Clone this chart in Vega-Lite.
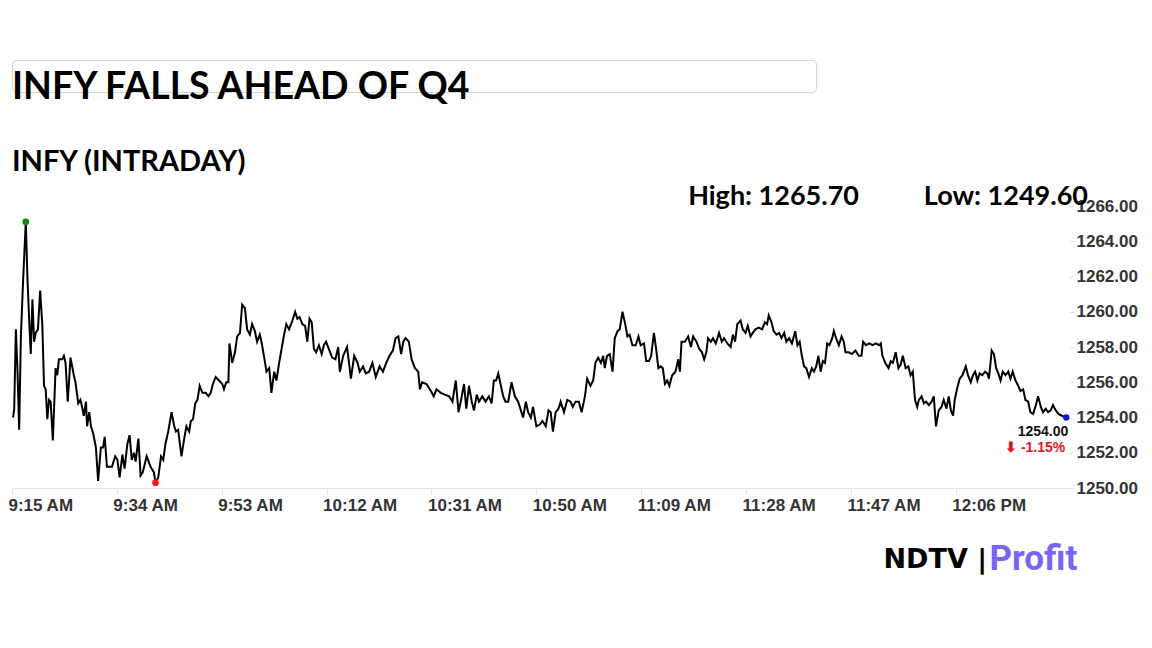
{
  "$schema": "https://vega.github.io/schema/vega-lite/v6.json",
  "padding": {"left": 8, "top": 59, "right": 0, "bottom": 20},
  "autosize": {"type": "pad"},
  "background": "#ffffff",
  "spacing": 41,
  "config": {"view": {"stroke": null}, "font": "Liberation Sans"},
  "datasets": {
    "px": [
      {"t":555.2,"p":1254.0},{"t":555.4,"p":1254.5},{"t":555.7,"p":1259.0},{"t":556.0,"p":1256.6},{"t":556.3,"p":1253.3},{"t":556.6,"p":1258.5},{"t":557.0,"p":1261.7},{"t":557.5,"p":1265.1},{"t":557.8,"p":1261.9},{"t":558.1,"p":1259.6},{"t":558.4,"p":1257.6},{"t":558.7,"p":1260.7},{"t":559.0,"p":1258.3},{"t":559.3,"p":1258.8},{"t":559.7,"p":1259.0},{"t":560.1,"p":1261.2},{"t":560.5,"p":1259.2},{"t":560.8,"p":1255.8},{"t":561.1,"p":1255.6},{"t":561.4,"p":1253.9},{"t":561.7,"p":1255.0},{"t":562.0,"p":1254.9},{"t":562.4,"p":1252.7},{"t":562.9,"p":1256.8},{"t":563.2,"p":1256.4},{"t":563.5,"p":1257.3},{"t":564.1,"p":1257.3},{"t":564.4,"p":1257.5},{"t":564.7,"p":1257.1},{"t":565.1,"p":1254.9},{"t":565.6,"p":1257.4},{"t":566.2,"p":1256.4},{"t":566.5,"p":1256.0},{"t":567.0,"p":1254.8},{"t":567.4,"p":1255.0},{"t":567.7,"p":1254.6},{"t":568.0,"p":1254.1},{"t":568.4,"p":1254.9},{"t":568.6,"p":1253.5},{"t":569.0,"p":1254.3},{"t":569.3,"p":1253.5},{"t":569.7,"p":1253.1},{"t":570.2,"p":1252.3},{"t":570.6,"p":1250.4},{"t":571.1,"p":1252.3},{"t":571.5,"p":1252.3},{"t":571.8,"p":1252.9},{"t":572.2,"p":1251.2},{"t":572.6,"p":1251.2},{"t":573.1,"p":1251.2},{"t":573.7,"p":1251.8},{"t":574.1,"p":1251.6},{"t":574.5,"p":1250.6},{"t":575.0,"p":1251.9},{"t":575.4,"p":1251.1},{"t":575.9,"p":1252.5},{"t":576.3,"p":1253.0},{"t":576.7,"p":1251.6},{"t":577.1,"p":1252.0},{"t":577.4,"p":1251.5},{"t":577.9,"p":1252.8},{"t":578.3,"p":1250.7},{"t":578.7,"p":1250.9},{"t":579.4,"p":1251.8},{"t":580.1,"p":1251.2},{"t":580.7,"p":1250.9},{"t":581.0,"p":1250.3},{"t":581.5,"p":1250.6},{"t":582.0,"p":1251.8},{"t":582.4,"p":1251.6},{"t":582.8,"p":1252.5},{"t":583.3,"p":1253.2},{"t":583.9,"p":1254.3},{"t":584.4,"p":1253.5},{"t":584.7,"p":1253.2},{"t":585.1,"p":1253.3},{"t":585.7,"p":1251.8},{"t":586.2,"p":1252.8},{"t":586.6,"p":1253.5},{"t":587.1,"p":1253.2},{"t":587.4,"p":1253.8},{"t":587.8,"p":1253.9},{"t":588.2,"p":1254.8},{"t":588.6,"p":1255.0},{"t":589.0,"p":1255.8},{"t":589.5,"p":1255.4},{"t":590.1,"p":1255.4},{"t":590.6,"p":1255.2},{"t":591.0,"p":1255.4},{"t":591.4,"p":1255.9},{"t":591.9,"p":1256.3},{"t":592.5,"p":1256.1},{"t":593.1,"p":1255.9},{"t":593.4,"p":1255.6},{"t":593.8,"p":1256.0},{"t":594.2,"p":1256.0},{"t":594.4,"p":1258.2},{"t":594.9,"p":1257.1},{"t":595.4,"p":1257.7},{"t":595.8,"p":1258.6},{"t":596.3,"p":1258.8},{"t":596.7,"p":1260.4},{"t":597.2,"p":1260.2},{"t":597.6,"p":1259.0},{"t":598.1,"p":1258.7},{"t":598.5,"p":1259.3},{"t":599.0,"p":1258.9},{"t":599.4,"p":1258.3},{"t":599.9,"p":1258.7},{"t":600.2,"p":1258.3},{"t":600.7,"p":1257.4},{"t":601.1,"p":1256.6},{"t":601.6,"p":1256.8},{"t":602.0,"p":1255.4},{"t":602.5,"p":1256.6},{"t":602.9,"p":1256.1},{"t":603.4,"p":1257.1},{"t":603.9,"p":1258.0},{"t":604.3,"p":1258.7},{"t":604.7,"p":1259.3},{"t":605.2,"p":1259.0},{"t":605.8,"p":1259.5},{"t":606.3,"p":1260.0},{"t":606.7,"p":1259.6},{"t":607.1,"p":1259.7},{"t":607.6,"p":1259.3},{"t":608.1,"p":1259.2},{"t":608.5,"p":1258.3},{"t":608.9,"p":1259.6},{"t":609.3,"p":1259.4},{"t":609.7,"p":1257.9},{"t":610.1,"p":1257.7},{"t":610.6,"p":1258.1},{"t":611.1,"p":1257.6},{"t":611.5,"p":1258.1},{"t":611.9,"p":1258.3},{"t":612.4,"p":1257.9},{"t":613.0,"p":1257.4},{"t":613.6,"p":1257.3},{"t":614.1,"p":1258.0},{"t":614.4,"p":1256.6},{"t":615.0,"p":1257.5},{"t":615.7,"p":1258.0},{"t":616.4,"p":1256.2},{"t":617.0,"p":1257.5},{"t":617.6,"p":1257.1},{"t":618.0,"p":1256.6},{"t":618.6,"p":1256.9},{"t":619.1,"p":1256.5},{"t":619.7,"p":1256.6},{"t":620.3,"p":1257.1},{"t":620.9,"p":1256.3},{"t":621.6,"p":1256.9},{"t":622.2,"p":1256.6},{"t":622.8,"p":1257.1},{"t":623.4,"p":1257.5},{"t":624.0,"p":1257.8},{"t":624.5,"p":1258.5},{"t":625.0,"p":1258.6},{"t":625.5,"p":1257.6},{"t":625.9,"p":1258.3},{"t":626.3,"p":1258.5},{"t":626.9,"p":1258.3},{"t":627.4,"p":1257.3},{"t":628.0,"p":1256.8},{"t":628.6,"p":1256.6},{"t":628.9,"p":1255.6},{"t":629.3,"p":1256.0},{"t":630.1,"p":1255.9},{"t":630.9,"p":1255.5},{"t":631.4,"p":1255.2},{"t":631.9,"p":1255.6},{"t":632.7,"p":1255.4},{"t":633.4,"p":1255.3},{"t":634.2,"p":1255.2},{"t":634.8,"p":1254.9},{"t":635.4,"p":1256.1},{"t":635.9,"p":1254.3},{"t":636.3,"p":1254.9},{"t":636.9,"p":1255.9},{"t":637.3,"p":1254.5},{"t":637.8,"p":1255.8},{"t":638.3,"p":1254.9},{"t":638.7,"p":1254.4},{"t":639.2,"p":1255.3},{"t":639.6,"p":1254.9},{"t":640.2,"p":1255.2},{"t":640.8,"p":1254.9},{"t":641.4,"p":1255.2},{"t":641.9,"p":1254.8},{"t":642.3,"p":1256.1},{"t":642.7,"p":1256.1},{"t":643.1,"p":1256.5},{"t":643.5,"p":1255.9},{"t":644.0,"p":1255.2},{"t":644.4,"p":1254.9},{"t":644.9,"p":1254.9},{"t":645.5,"p":1256.0},{"t":646.1,"p":1255.2},{"t":646.7,"p":1254.9},{"t":647.6,"p":1254.0},{"t":648.1,"p":1254.9},{"t":648.5,"p":1254.3},{"t":649.0,"p":1254.0},{"t":649.4,"p":1254.6},{"t":650.0,"p":1253.5},{"t":650.6,"p":1253.6},{"t":651.1,"p":1253.8},{"t":651.7,"p":1253.5},{"t":652.2,"p":1254.4},{"t":652.6,"p":1254.3},{"t":653.0,"p":1253.2},{"t":653.5,"p":1254.3},{"t":654.0,"p":1254.5},{"t":654.4,"p":1254.9},{"t":655.0,"p":1254.3},{"t":655.6,"p":1255.0},{"t":656.2,"p":1254.9},{"t":656.6,"p":1254.6},{"t":657.1,"p":1254.9},{"t":657.7,"p":1254.9},{"t":658.2,"p":1254.3},{"t":658.8,"p":1255.2},{"t":659.2,"p":1256.2},{"t":659.8,"p":1255.8},{"t":660.3,"p":1256.1},{"t":660.7,"p":1257.1},{"t":661.2,"p":1257.4},{"t":661.7,"p":1257.1},{"t":662.1,"p":1257.5},{"t":662.4,"p":1256.8},{"t":662.8,"p":1257.5},{"t":663.3,"p":1257.6},{"t":663.8,"p":1256.6},{"t":664.2,"p":1258.5},{"t":664.7,"p":1258.9},{"t":665.1,"p":1259.0},{"t":665.6,"p":1260.0},{"t":666.1,"p":1259.3},{"t":666.5,"p":1258.6},{"t":666.9,"p":1258.7},{"t":667.4,"p":1258.1},{"t":668.0,"p":1258.1},{"t":668.5,"p":1258.6},{"t":668.9,"p":1258.1},{"t":669.5,"p":1258.2},{"t":669.9,"p":1257.2},{"t":670.4,"p":1257.2},{"t":670.8,"p":1257.5},{"t":671.3,"p":1258.8},{"t":671.7,"p":1257.9},{"t":672.1,"p":1256.8},{"t":672.5,"p":1256.9},{"t":672.9,"p":1256.8},{"t":673.3,"p":1255.9},{"t":673.7,"p":1256.1},{"t":674.1,"p":1255.8},{"t":674.6,"p":1256.4},{"t":675.2,"p":1256.6},{"t":675.7,"p":1257.3},{"t":676.0,"p":1256.6},{"t":676.3,"p":1258.3},{"t":676.9,"p":1258.3},{"t":677.5,"p":1258.6},{"t":678.0,"p":1258.0},{"t":678.4,"p":1258.6},{"t":679.0,"p":1258.3},{"t":679.5,"p":1257.9},{"t":680.0,"p":1257.7},{"t":680.4,"p":1257.3},{"t":680.8,"p":1257.7},{"t":681.1,"p":1258.5},{"t":681.6,"p":1258.3},{"t":682.0,"p":1258.5},{"t":682.5,"p":1258.2},{"t":683.1,"p":1258.8},{"t":683.6,"p":1258.3},{"t":684.0,"p":1258.5},{"t":684.6,"p":1258.2},{"t":685.2,"p":1258.0},{"t":685.6,"p":1258.7},{"t":686.0,"p":1258.3},{"t":686.4,"p":1259.3},{"t":687.0,"p":1259.5},{"t":687.4,"p":1259.0},{"t":687.9,"p":1258.8},{"t":688.3,"p":1259.2},{"t":688.8,"p":1258.6},{"t":689.2,"p":1258.8},{"t":689.7,"p":1259.0},{"t":690.3,"p":1259.1},{"t":690.9,"p":1259.0},{"t":691.4,"p":1259.4},{"t":691.8,"p":1259.3},{"t":692.1,"p":1259.8},{"t":692.6,"p":1259.4},{"t":693.0,"p":1258.9},{"t":693.5,"p":1258.7},{"t":694.0,"p":1258.8},{"t":694.4,"p":1258.5},{"t":694.9,"p":1258.8},{"t":695.3,"p":1258.3},{"t":695.8,"p":1258.5},{"t":696.3,"p":1258.2},{"t":696.9,"p":1258.9},{"t":697.3,"p":1258.1},{"t":697.7,"p":1258.3},{"t":698.1,"p":1257.5},{"t":698.5,"p":1256.9},{"t":698.9,"p":1256.8},{"t":699.4,"p":1256.3},{"t":699.9,"p":1256.8},{"t":700.3,"p":1256.6},{"t":700.7,"p":1256.9},{"t":701.1,"p":1257.5},{"t":701.5,"p":1256.6},{"t":701.9,"p":1257.2},{"t":702.3,"p":1257.1},{"t":702.7,"p":1258.2},{"t":703.1,"p":1258.1},{"t":703.6,"p":1258.5},{"t":703.9,"p":1258.9},{"t":704.3,"p":1258.5},{"t":704.8,"p":1258.1},{"t":705.3,"p":1258.6},{"t":705.7,"p":1258.3},{"t":706.0,"p":1257.7},{"t":706.6,"p":1257.7},{"t":707.2,"p":1257.6},{"t":707.8,"p":1257.8},{"t":708.4,"p":1257.5},{"t":708.9,"p":1257.5},{"t":709.2,"p":1258.3},{"t":709.7,"p":1258.1},{"t":710.3,"p":1258.2},{"t":710.9,"p":1258.1},{"t":711.5,"p":1258.2},{"t":712.1,"p":1258.1},{"t":712.4,"p":1258.2},{"t":712.7,"p":1257.5},{"t":713.2,"p":1257.1},{"t":713.8,"p":1256.8},{"t":714.2,"p":1257.2},{"t":714.6,"p":1257.1},{"t":715.1,"p":1257.7},{"t":715.6,"p":1256.8},{"t":716.0,"p":1257.0},{"t":716.4,"p":1257.5},{"t":716.9,"p":1256.8},{"t":717.4,"p":1256.9},{"t":717.8,"p":1256.4},{"t":718.2,"p":1256.6},{"t":718.6,"p":1255.0},{"t":719.0,"p":1254.6},{"t":719.3,"p":1255.0},{"t":719.8,"p":1255.2},{"t":720.2,"p":1254.8},{"t":720.6,"p":1254.9},{"t":721.1,"p":1254.7},{"t":721.6,"p":1254.9},{"t":722.0,"p":1255.2},{"t":722.4,"p":1253.5},{"t":722.9,"p":1254.4},{"t":723.4,"p":1254.6},{"t":723.8,"p":1255.0},{"t":724.3,"p":1254.5},{"t":724.7,"p":1255.2},{"t":725.1,"p":1254.4},{"t":725.5,"p":1254.1},{"t":725.8,"p":1255.0},{"t":726.2,"p":1255.6},{"t":726.7,"p":1256.2},{"t":727.2,"p":1256.4},{"t":727.8,"p":1256.9},{"t":728.2,"p":1256.4},{"t":728.7,"p":1256.0},{"t":729.1,"p":1256.4},{"t":729.5,"p":1256.6},{"t":729.9,"p":1256.1},{"t":730.3,"p":1256.5},{"t":730.8,"p":1256.4},{"t":731.3,"p":1256.6},{"t":731.7,"p":1256.5},{"t":732.0,"p":1256.2},{"t":732.5,"p":1257.8},{"t":732.9,"p":1257.6},{"t":733.3,"p":1256.8},{"t":733.7,"p":1256.5},{"t":734.1,"p":1256.1},{"t":734.5,"p":1256.6},{"t":735.0,"p":1256.4},{"t":735.5,"p":1256.6},{"t":735.9,"p":1256.2},{"t":736.3,"p":1256.6},{"t":736.8,"p":1256.1},{"t":737.3,"p":1255.8},{"t":737.7,"p":1255.5},{"t":738.2,"p":1255.6},{"t":738.6,"p":1255.0},{"t":739.1,"p":1254.9},{"t":739.5,"p":1254.3},{"t":740.0,"p":1254.2},{"t":740.5,"p":1254.7},{"t":740.9,"p":1255.2},{"t":741.4,"p":1254.6},{"t":741.8,"p":1254.3},{"t":742.3,"p":1254.5},{"t":742.7,"p":1254.3},{"t":743.2,"p":1254.4},{"t":743.6,"p":1254.7},{"t":744.1,"p":1254.4},{"t":744.6,"p":1254.2},{"t":745.2,"p":1254.1},{"t":746.0,"p":1254.0}
    ]
  },
  "vconcat": [
    {
      "width": 804,
      "height": 32,
      "view": {"stroke": "#d4d4d4", "strokeWidth": 1, "cornerRadius": 4},
      "data": {"values": [{"label": "INFY FALLS AHEAD OF Q4"}]},
      "mark": {"type": "text", "align": "left", "baseline": "alphabetic", "dy": 7, "font": "Lato", "fontSize": 37.5, "fontWeight": "bold", "color": "#000000"},
      "encoding": {
        "x": {"datum": 0, "type": "quantitative", "scale": {"domain": [0, 1]}, "axis": null},
        "y": {"datum": 0, "type": "quantitative", "scale": {"domain": [0, 1]}, "axis": null},
        "text": {"field": "label"}
      }
    },
    {
      "width": 1057,
      "height": 282,
      "data": {"name": "px"},
      "title": {"text": "INFY (INTRADAY)", "anchor": "start", "frame": "group", "offset": -17, "baseline": "alphabetic", "font": "Lato", "fontSize": 29, "fontWeight": "bold", "color": "#000000"},
      "encoding": {
        "x": {
          "field": "t", "type": "quantitative",
          "scale": {"domain": [555, 746.5], "nice": false, "zero": false},
          "axis": {
            "values": [555, 574, 593, 612, 631, 650, 669, 688, 707, 726],
            "labelExpr": "(floor(datum.value/60) > 12 ? floor(datum.value/60) - 12 : floor(datum.value/60)) + ':' + (datum.value % 60 < 10 ? '0' : '') + (datum.value % 60) + (datum.value >= 720 ? ' PM' : ' AM')",
            "labelAlign": "left", "labelFlush": false, "labelOverlap": false, "labelOffset": -4,
            "labelFont": "Liberation Sans", "labelFontSize": 17, "labelFontWeight": "bold", "labelColor": "#333333",
            "labelPadding": 3, "tickSize": 6, "tickColor": "#e3e3e3", "domainColor": "#e3e3e3", "grid": false,
            "title": "NDTV |", "titleFont": "DejaVu Sans", "titleFontSize": 27, "titleFontWeight": "bold", "titleColor": "#000000",
            "titleX": 871, "titleY": 71, "titleAlign": "left", "titleBaseline": "middle"
          }
        },
        "y": {
          "field": "p", "type": "quantitative",
          "scale": {"domain": [1250, 1266], "nice": false, "zero": false},
          "axis": {
            "orient": "right",
            "values": [1250, 1252, 1254, 1256, 1258, 1260, 1262, 1264, 1266],
            "format": ".2f", "labelFlush": false,
            "labelFont": "Liberation Sans", "labelFontSize": 17, "labelFontWeight": "bold", "labelColor": "#333333",
            "labelPadding": 2, "tickSize": 5, "tickColor": "#e3e3e3", "domain": false, "grid": false,
            "title": "Profit", "titleFont": "Roboto", "titleFontSize": 35, "titleFontWeight": "bold",
            "titleColor": "#7a64f2",
            "titleAngle": 0, "titleX": -80, "titleY": 352, "titleAlign": "left", "titleBaseline": "middle"
          }
        }
      },
      "layer": [
        {"mark": {"type": "line", "color": "#000000", "strokeWidth": 2}},
        {
          "transform": [{"joinaggregate": [{"op": "max", "field": "p", "as": "pmax"}]}, {"filter": "datum.p === datum.pmax"}],
          "mark": {"type": "circle", "color": "#0a8a0a", "size": 45, "opacity": 1}
        },
        {
          "transform": [{"joinaggregate": [{"op": "min", "field": "p", "as": "pmin"}]}, {"filter": "datum.p === datum.pmin"}],
          "mark": {"type": "circle", "color": "#ff1a1a", "size": 45, "opacity": 1}
        },
        {
          "transform": [{"joinaggregate": [{"op": "max", "field": "t", "as": "tmax"}]}, {"filter": "datum.t === datum.tmax"}],
          "mark": {"type": "circle", "color": "#1010e0", "size": 40, "opacity": 1}
        },
        {
          "transform": [{"joinaggregate": [{"op": "max", "field": "t", "as": "tmax"}]}, {"filter": "datum.t === datum.tmax"}],
          "mark": {"type": "text", "align": "right", "baseline": "middle", "dx": 2, "dy": 14, "font": "Liberation Sans", "fontSize": 14, "fontWeight": "bold", "color": "#111111"},
          "encoding": {"text": {"field": "p", "format": ".2f"}}
        },
        {
          "transform": [{"joinaggregate": [{"op": "max", "field": "t", "as": "tmax"}]}, {"filter": "datum.t === datum.tmax"}],
          "mark": {"type": "text", "align": "right", "baseline": "middle", "dx": -1, "dy": 30, "font": "Liberation Sans", "fontSize": 14, "fontWeight": "bold", "color": "#e0161e", "text": "⬇ -1.15%"}
        },
        {
          "transform": [{"filter": "datum.t === 677.5"}],
          "mark": {"type": "text", "align": "left", "baseline": "alphabetic", "dy": -1, "font": "Lato", "fontSize": 27, "fontWeight": "bold", "color": "#000000", "text": "High: 1265.70"},
          "encoding": {"y": {"datum": 1266, "type": "quantitative"}}
        },
        {
          "transform": [{"filter": "datum.t === 720.2"}],
          "mark": {"type": "text", "align": "left", "baseline": "alphabetic", "dy": -1, "font": "Lato", "fontSize": 27, "fontWeight": "bold", "color": "#000000", "text": "Low: 1249.60"},
          "encoding": {"y": {"datum": 1266, "type": "quantitative"}}
        }
      ]
    }
  ]
}
